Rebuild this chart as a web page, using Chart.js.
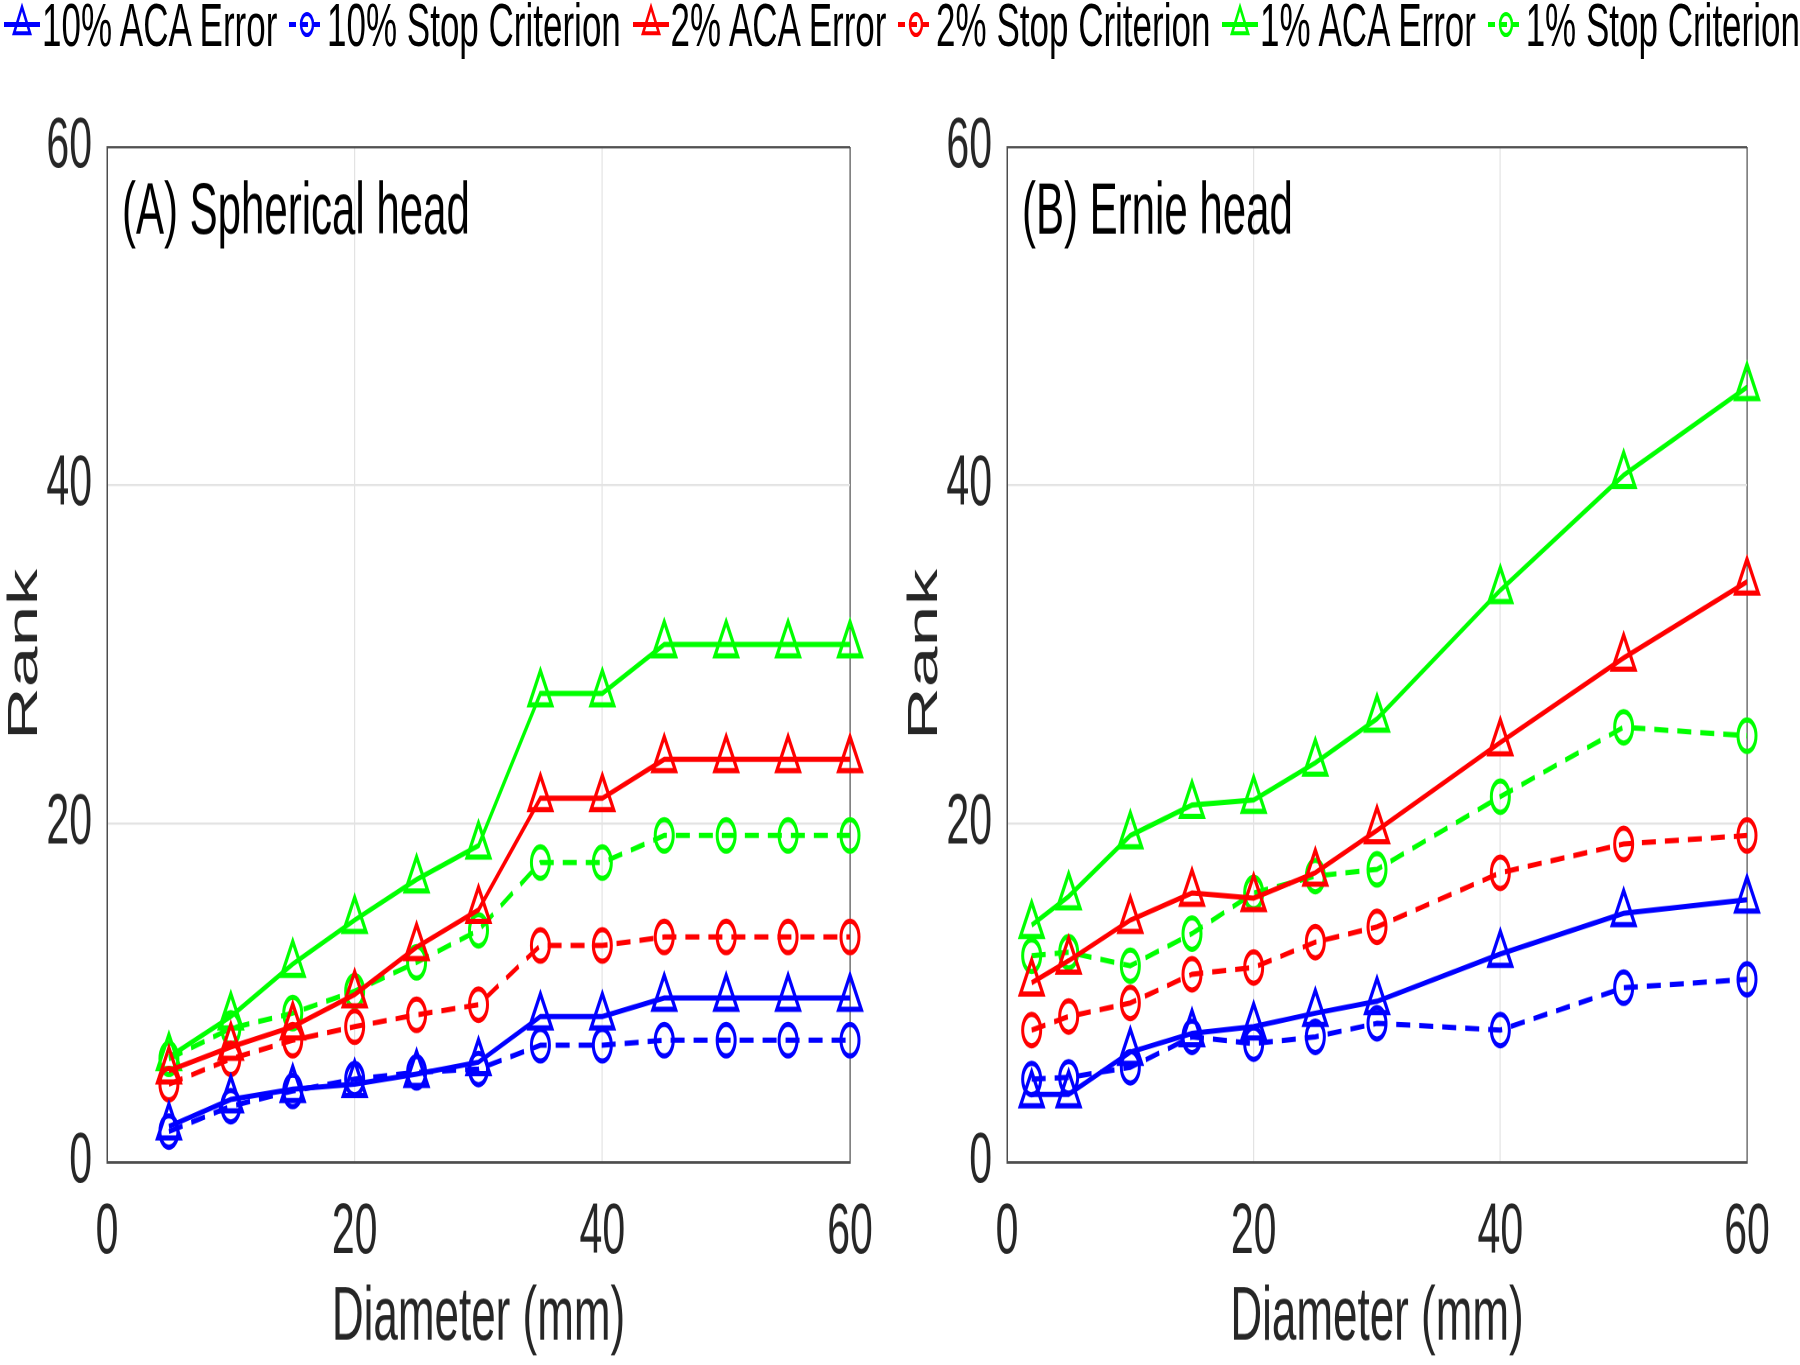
<!DOCTYPE html>
<html>
<head>
<meta charset="utf-8">
<script src="https://cdn.jsdelivr.net/npm/chart.js@4.4.1/dist/chart.umd.min.js"></script>
<style>
  html, body { margin: 0; padding: 0; background: #fff; }
  #page { position: relative; width: 1800px; height: 1365px; overflow: hidden; }
  #stage {
    position: absolute; left: 0; top: 0; width: 1800px; height: 780px;
    transform: scaleY(1.75); transform-origin: 0 0;
    font-family: "Liberation Sans", Arial, sans-serif;
  }
  #legend {
    position: absolute; left: 4px; right: 0; top: 0; height: 28px;
    display: flex; justify-content: space-between; align-items: center;
    font-size: 35px; line-height: 28px; color: #000;
  }
  .item { display: flex; align-items: center; white-space: nowrap; }
  .item svg { margin-right: 2px; }
  .panel { position: absolute; top: 0; width: 900px; height: 780px; }
  #left { left: 0; }
  #right { left: 900px; }
</style>
</head>
<body>
<div id="page">
<div id="stage">
  <div id="legend"></div>
  <div class="panel" id="left"><canvas id="sphChart" width="900" height="780"></canvas></div>
  <div class="panel" id="right"><canvas id="ernieChart" width="900" height="780"></canvas></div>
</div>
</div>
<script>
// x positions (diameter, mm)
const sphDiam = [5, 10, 15, 20, 25, 30, 35, 40, 45, 50, 55, 60];
const ernieDiam = [2, 5, 10, 15, 20, 25, 30, 40, 50, 60];

// (A) spherical head
const sph10Aca  = [2.1, 3.7, 4.3, 4.6, 5.2, 5.9, 8.6, 8.6, 9.7, 9.7, 9.7, 9.7];
const sph10Stop = [1.8, 3.3, 4.2, 4.9, 5.3, 5.5, 6.9, 6.9, 7.2, 7.2, 7.2, 7.2];
const sph2Aca   = [5.4, 6.8, 8.0, 9.9, 12.7, 14.9, 21.5, 21.5, 23.8, 23.8, 23.8, 23.8];
const sph2Stop  = [4.6, 6.1, 7.2, 8.0, 8.7, 9.3, 12.8, 12.8, 13.3, 13.3, 13.3, 13.3];
const sph1Aca   = [6.2, 8.6, 11.7, 14.3, 16.7, 18.7, 27.7, 27.7, 30.6, 30.6, 30.6, 30.6];
const sph1Stop  = [6.1, 7.9, 8.8, 10.1, 11.8, 13.7, 17.7, 17.7, 19.3, 19.3, 19.3, 19.3];

// (B) Ernie head
const ernie10Aca  = [4.0, 4.0, 6.5, 7.6, 8.0, 8.8, 9.5, 12.3, 14.7, 15.5];
const ernie10Stop = [4.9, 5.0, 5.6, 7.4, 7.0, 7.4, 8.2, 7.8, 10.3, 10.8];
const ernie2Aca   = [10.6, 11.9, 14.3, 15.9, 15.6, 17.1, 19.6, 24.8, 29.8, 34.3];
const ernie2Stop  = [7.8, 8.6, 9.4, 11.1, 11.5, 13.0, 13.9, 17.1, 18.8, 19.3];
const ernie1Aca   = [14.0, 15.7, 19.3, 21.1, 21.4, 23.6, 26.2, 33.8, 40.6, 45.8];
const ernie1Stop  = [12.2, 12.4, 11.6, 13.5, 15.9, 16.9, 17.3, 21.6, 25.7, 25.2];

const seriesLabels = ['10% ACA Error', '10% Stop Criterion', '2% ACA Error', '2% Stop Criterion', '1% ACA Error', '1% Stop Criterion'];
const seriesColors = ['#0000ff', '#0000ff', '#ff0000', '#ff0000', '#00ff00', '#00ff00'];
const axisTicks = [0, 20, 40, 60];

const FONT = '"Liberation Sans", Arial, sans-serif';
Chart.defaults.font.family = FONT;
Chart.defaults.color = '#262626';

function makeSet(i, xs, ys) {
    const stop = i % 2 === 1;
    return {
        label: seriesLabels[i],
        data: xs.map((x, k) => ({ x: x, y: ys[k] })),
        borderColor: seriesColors[i],
        backgroundColor: seriesColors[i],
        pointBackgroundColor: 'rgba(0,0,0,0)',
        pointBorderColor: seriesColors[i],
        pointStyle: stop ? 'circle' : 'triangle',
        pointRadius: stop ? 9 : 13,
        pointBorderWidth: 3,
        borderWidth: 3,
        borderDash: stop ? [14, 9] : [],
        tension: 0,
        clip: false
    };
}

const panelTitle = {
    id: 'panelTitle',
    afterDraw(chart, args, opts) {
        const c = chart.ctx;
        c.save();
        c.font = '42px ' + FONT;
        c.fillStyle = '#000';
        c.textBaseline = 'middle';
        c.fillText(opts.text, chart.chartArea.left + 15, chart.chartArea.top + 38);
        c.restore();
    }
};

function gridColor(ctx) {
    return ctx.tick && ctx.tick.value === 60 ? '#4d4d4d' : '#e3e3e3';
}

function makeChart(id, title, xs, sets, leftPad, rightPad) {
    return new Chart(document.getElementById(id), {
        type: 'line',
        data: { datasets: sets.map((ys, i) => makeSet(i, xs, ys)) },
        plugins: [panelTitle],
        options: {
            responsive: false,
            animation: false,
            devicePixelRatio: 2,
            layout: { padding: { top: 84, right: rightPad, left: leftPad, bottom: 0 } },
            plugins: {
                legend: { display: false },
                tooltip: { enabled: false },
                panelTitle: { text: title }
            },
            scales: {
                x: {
                    type: 'linear', min: 0, max: 60,
                    afterBuildTicks: s => { s.ticks = axisTicks.map(v => ({ value: v })); },
                    afterFit: s => { s.height = 116; },
                    ticks: { font: { size: 41 }, padding: 16, color: '#262626' },
                    grid: { color: gridColor, lineWidth: 1.2, drawTicks: false },
                    border: { color: '#4d4d4d', width: 1.5 },
                    title: { display: true, text: 'Diameter (mm)', font: { size: 44 }, color: '#262626', padding: 0 }
                },
                y: {
                    type: 'linear', min: 0, max: 60,
                    afterBuildTicks: s => { s.ticks = axisTicks.map(v => ({ value: v })); },
                    afterFit: s => { s.width = 107 - leftPad; },
                    ticks: { font: { size: 41 }, padding: 15, color: '#262626' },
                    grid: { color: gridColor, lineWidth: 1.2, drawTicks: false },
                    border: { color: '#4d4d4d', width: 1.5 },
                    title: { display: true, text: 'Rank', font: { size: 42 }, color: '#262626', padding: 0 }
                }
            }
        }
    });
}

makeChart('sphChart', '(A) Spherical head', sphDiam,
    [sph10Aca, sph10Stop, sph2Aca, sph2Stop, sph1Aca, sph1Stop], 0, 50);
makeChart('ernieChart', '(B) Ernie head', ernieDiam,
    [ernie10Aca, ernie10Stop, ernie2Aca, ernie2Stop, ernie1Aca, ernie1Stop], 0, 53);

// shared legend across both panels
const legendBox = document.getElementById('legend');
seriesLabels.forEach((label, i) => {
    const stop = i % 2 === 1;
    const col = seriesColors[i];
    const marker = stop
        ? `<circle cx="18" cy="14" r="6" fill="none" stroke="${col}" stroke-width="2.4"/>`
        : `<polygon points="18,4 26,19 10,19" fill="none" stroke="${col}" stroke-width="2.4"/>`;
    const item = document.createElement('div');
    item.className = 'item';
    item.innerHTML = `<svg width="36" height="28" viewBox="0 0 36 28">` +
        `<line x1="0" y1="14" x2="36" y2="14" stroke="${col}" stroke-width="2.8"${stop ? ' stroke-dasharray="7,5"' : ''}/>` +
        marker + `</svg><span>${label}</span>`;
    legendBox.appendChild(item);
});
</script>
</body>
</html>
